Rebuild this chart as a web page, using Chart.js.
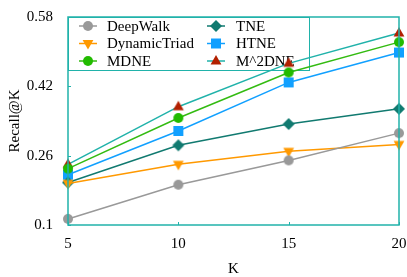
<!DOCTYPE html>
<html>
<head>
<meta charset="utf-8">
<script src="https://cdn.jsdelivr.net/npm/chart.js@4/dist/chart.umd.min.js"></script>
<style>
html,body{margin:0;padding:0;background:#fff;}
#wrap{width:407px;height:277px;position:relative;}
</style>
</head>
<body>
<div id="wrap"><canvas id="c" width="407" height="277"></canvas></div>
<script>
const categories = ['5', '10', '15', '20'];
const yTicks = [0.1, 0.26, 0.42, 0.58];
const deepWalk = [0.114, 0.193, 0.249, 0.312];
const dynamicTriad = [0.196, 0.240, 0.270, 0.286];
const mdne = [0.230, 0.347, 0.452, 0.522];
const tne = [0.198, 0.284, 0.333, 0.368];
const htne = [0.216, 0.317, 0.429, 0.498];
const m2dne = [0.240, 0.373, 0.473, 0.543];

const AXIS = '#20b2aa';
const FONT = "'Liberation Serif', 'Times New Roman', serif";

const series = [
  {label:'DeepWalk', data:deepWalk, line:'#999999', fill:'#999999', style:'circle', r:5},
  {label:'DynamicTriad', data:dynamicTriad, line:'#ff9900', fill:'#ff9900', style:'triangleDown', r:6},
  {label:'MDNE', data:mdne, line:'#33bb11', fill:'#22bb00', style:'circle', r:5},
  {label:'TNE', data:tne, line:'#117a70', fill:'#117a70', style:'rectRot', r:5},
  {label:'HTNE', data:htne, line:'#11a0ff', fill:'#11a0ff', style:'rect', r:5},
  {label:'M^2DNE', data:m2dne, line:'#20b2aa', fill:'#b22000', style:'triangle', r:6}
];

function drawMarker(ctx, style, x, y, r, color){
  ctx.save();
  ctx.fillStyle = color;
  ctx.beginPath();
  if(style==='circle'){ ctx.arc(x,y,r,0,Math.PI*2); }
  else if(style==='rect'){ ctx.rect(x-r,y-r,2*r,2*r); }
  else if(style==='rectRot'){ ctx.moveTo(x,y-r*1.2); ctx.lineTo(x+r*1.2,y); ctx.lineTo(x,y+r*1.2); ctx.lineTo(x-r*1.2,y); ctx.closePath(); }
  else if(style==='triangle'){ ctx.moveTo(x,y-r); ctx.lineTo(x+r*0.9,y+r*0.6); ctx.lineTo(x-r*0.9,y+r*0.6); ctx.closePath(); }
  else if(style==='triangleDown'){ ctx.moveTo(x,y+r); ctx.lineTo(x+r*0.9,y-r*0.6); ctx.lineTo(x-r*0.9,y-r*0.6); ctx.closePath(); }
  ctx.fill();
  ctx.restore();
}

function markerCanvas(s){
  const size = s.r*2+4;
  const cv = document.createElement('canvas');
  cv.width = size; cv.height = size;
  drawMarker(cv.getContext('2d'), s.style, size/2, size/2, s.r, s.fill);
  return cv;
}

const boxPlugin = {
  id:'boxPlugin',
  beforeDatasetsDraw(chart){
    const {ctx, chartArea:a} = chart;
    ctx.save();
    const lx = a.left, ly = a.top, lw = 242, lh = 53;
    ctx.fillStyle = '#ffffff';
    ctx.fillRect(lx, ly, lw, lh);
    ctx.strokeStyle = AXIS; ctx.lineWidth = 1;
    ctx.strokeRect(lx+0.5, ly+0.5, lw-1, lh);
    ctx.font = '15px ' + FONT;
    ctx.textBaseline = 'middle';
    const rows = [9, 26.5, 44];
    series.forEach((s,i)=>{
      const col = Math.floor(i/3), row = i%3;
      const mx = a.left + (col===0 ? 20 : 148);
      const tx = a.left + (col===0 ? 39 : 168);
      const y = a.top + rows[row];
      ctx.strokeStyle = s.line; ctx.lineWidth = 1.5;
      ctx.beginPath(); ctx.moveTo(mx-9,y); ctx.lineTo(mx+9,y); ctx.stroke();
      drawMarker(ctx, s.style, mx, y, s.r, s.fill);
      ctx.fillStyle = '#000';
      ctx.fillText(s.label, tx, y+1);
    });
    ctx.restore();
  },
  afterDraw(chart){
    const {ctx, chartArea:a, scales} = chart;
    ctx.save();
    ctx.strokeStyle = AXIS; ctx.lineWidth = 1.5;
    ctx.strokeRect(a.left, a.top, a.right-a.left, a.bottom-a.top);
    ctx.lineWidth = 1;
    scales.y.ticks.forEach(t=>{
      const y = Math.round(scales.y.getPixelForValue(t.value))+0.5;
      ctx.beginPath(); ctx.moveTo(a.left, y); ctx.lineTo(a.left+3, y); ctx.stroke();
    });
    categories.forEach((c,i)=>{
      const x = Math.round(scales.x.getPixelForValue(i))+0.5;
      ctx.beginPath(); ctx.moveTo(x, a.bottom); ctx.lineTo(x, a.bottom-3); ctx.stroke();
    });
    ctx.restore();
  }
};

new Chart(document.getElementById('c'), {
  type:'line',
  data:{
    labels:categories,
    datasets: series.map(s=>({
      label:s.label,
      data:s.data,
      borderColor:s.line,
      backgroundColor:s.fill,
      borderWidth:1.5,
      pointStyle:markerCanvas(s),
      pointRadius:s.r,
      clip:false,
      tension:0
    }))
  },
  options:{
    responsive:false,
    animation:false,
    devicePixelRatio:1,
    layout:{padding:{left:0,right:8,top:17,bottom:0}},
    plugins:{legend:{display:false}, tooltip:{enabled:false}},
    scales:{
      x:{
        type:'category',
        offset:false,
        grid:{display:false, drawTicks:false},
        border:{display:false},
        ticks:{color:'#000', font:{family:FONT,size:15}, padding:10, maxRotation:0, autoSkip:false},
        title:{display:true, text:'K', color:'#000', font:{family:FONT,size:15}, padding:{top:4,bottom:-1}},
        afterFit(scale){ scale.height = 52; scale.paddingLeft = 0; scale.paddingRight = 0; }
      },
      y:{
        min:0.1, max:0.58,
        grid:{display:false, drawTicks:false},
        border:{display:false},
        afterBuildTicks(scale){ scale.ticks = yTicks.map(v=>({value:v})); },
        ticks:{color:'#000', font:{family:FONT,size:15}, padding:15, callback:(v)=>String(v)},
        title:{display:true, text:'Recall@K', color:'#000', font:{family:FONT,size:15}, padding:{top:6,bottom:0}},
        afterFit(scale){ scale.width = 68; scale.paddingTop = 0; scale.paddingBottom = 0; }
      }
    }
  },
  plugins:[boxPlugin]
});
</script>
</body>
</html>
